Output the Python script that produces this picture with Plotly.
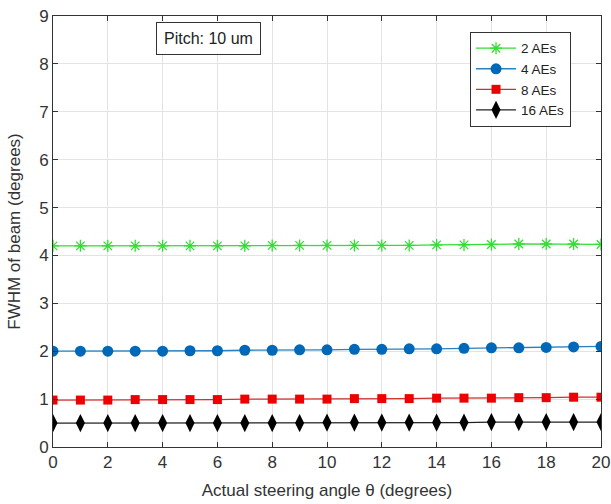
import plotly.graph_objects as go

angles = list(range(0, 21))
fwhm_2 = [4.20, 4.20, 4.20, 4.20, 4.20, 4.20, 4.20, 4.20, 4.21, 4.21, 4.21,
          4.21, 4.21, 4.21, 4.22, 4.22, 4.23, 4.24, 4.24, 4.24, 4.23]
fwhm_4 = [2.00, 2.00, 2.00, 2.00, 2.00, 2.01, 2.01, 2.02, 2.02, 2.03, 2.03,
          2.04, 2.04, 2.05, 2.05, 2.06, 2.07, 2.07, 2.08, 2.09, 2.10]
fwhm_8 = [0.98, 0.98, 0.98, 0.99, 0.99, 0.99, 0.99, 1.00, 1.00, 1.00, 1.00,
          1.01, 1.01, 1.01, 1.02, 1.02, 1.02, 1.03, 1.03, 1.04, 1.04]
fwhm_16 = [0.50, 0.50, 0.50, 0.50, 0.50, 0.50, 0.50, 0.50, 0.50, 0.50, 0.51,
           0.51, 0.51, 0.51, 0.51, 0.51, 0.52, 0.52, 0.52, 0.52, 0.52]
names = ["2 AEs", "4 AEs", "8 AEs", "16 AEs"]

font = "Liberation Sans, Arial, sans-serif"
fig = go.Figure()
fig.add_trace(go.Scatter(x=angles, y=fwhm_2, name=names[0], mode="lines+markers",
                         line=dict(color="#33dd33", width=1.3),
                         marker=dict(symbol="asterisk-open", size=10,
                                     line=dict(color="#22dd22", width=1.3))))
fig.add_trace(go.Scatter(x=angles, y=fwhm_4, name=names[1], mode="lines+markers",
                         line=dict(color="#2a80c0", width=1.3),
                         marker=dict(symbol="circle", size=11, color="#0068b8")))
fig.add_trace(go.Scatter(x=angles, y=fwhm_8, name=names[2], mode="lines+markers",
                         line=dict(color="#d03030", width=1.3),
                         marker=dict(symbol="square", size=9, color="#ee0000")))
fig.add_trace(go.Scatter(x=angles, y=fwhm_16, name=names[3], mode="lines+markers",
                         line=dict(color="#222222", width=1.3),
                         marker=dict(symbol="diamond-tall", size=13, color="#000000")))

axis_common = dict(showline=True, linecolor="#333333", linewidth=1, mirror="ticks",
                   ticks="inside", ticklen=5, tickcolor="#333333", automargin=False,
                   showgrid=True, gridcolor="#e3e3e3", gridwidth=1, zeroline=False,
                   tickfont=dict(family=font, size=17, color="#333333"))
fig.update_xaxes(range=[0, 20], dtick=2, **axis_common,
                 title=dict(text="Actual steering angle θ (degrees)", standoff=12,
                            font=dict(family=font, size=17, color="#333333")))
fig.update_yaxes(range=[0, 9], dtick=1, **axis_common,
                 title=dict(text="FWHM of beam (degrees)", standoff=14,
                            font=dict(family=font, size=17, color="#333333")))

fig.add_annotation(x=0.283, y=0.948, xref="paper", yref="paper", text="Pitch: 10 um",
                   xanchor="center", yanchor="middle",
                   showarrow=False, bordercolor="#333333", borderwidth=1, borderpad=7,
                   bgcolor="white", font=dict(family=font, size=16, color="#222222"))

fig.update_layout(width=611, height=504, plot_bgcolor="white", paper_bgcolor="white",
                  margin=dict(l=53, r=10, t=16, b=57),
                  legend=dict(x=0.761, y=0.963, xanchor="left", yanchor="top",
                              bordercolor="#333333", borderwidth=1, bgcolor="white",
                              font=dict(family=font, size=13.5, color="#222222"),
                              tracegroupgap=0, itemwidth=40),
                  font=dict(family=font))
fig.write_html("out.html", config={"displayModeBar": False},
               post_script="document.body.style.margin='0';document.body.style.overflow='hidden';")
